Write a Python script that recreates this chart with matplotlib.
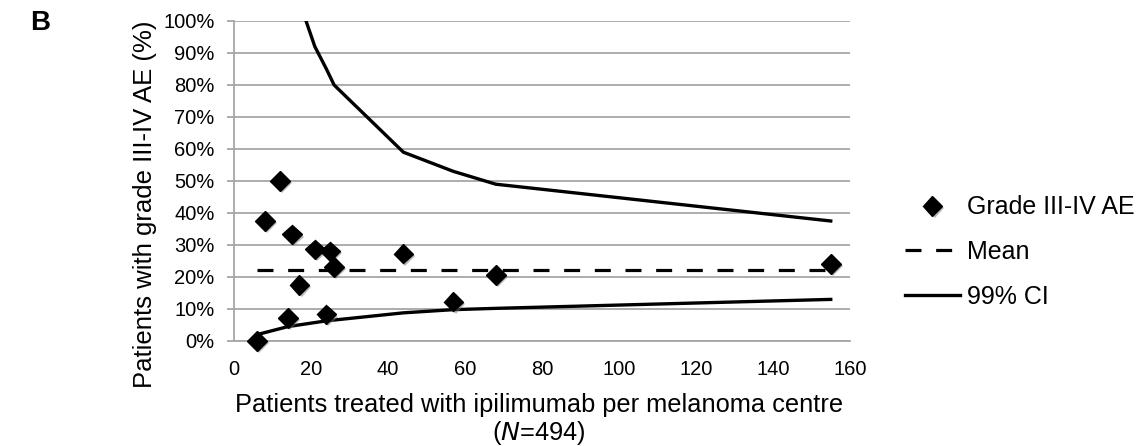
import numpy as np
import matplotlib
matplotlib.use("Agg")
import matplotlib.pyplot as plt
import matplotlib.patheffects as pe

# centre size vs. % of patients with grade III-IV AE
centre_n = [6, 8, 12, 14, 15, 17, 21, 24, 25, 26, 44, 57, 68, 155]
ae_pct = [0, 37.5, 50, 7.1, 33.3, 17.6, 28.6, 8.3, 28, 23.1, 27.3, 12.3, 20.6, 24]

mean_pct = 22.2
mean_x = [6, 155]

# 99% CI funnel
upper_x = [17, 21, 24, 25, 26, 44, 57, 68, 155]
upper_pct = [106, 92, 85, 82.5, 80, 59, 53, 49, 37.5]
lower_x = [6, 14, 24, 44, 57, 68, 155]
lower_pct = [2, 4.5, 6.3, 8.8, 9.8, 10.2, 13]

yticks = np.arange(0, 101, 10)
xticks = np.arange(0, 161, 20)

plt.rcParams['font.family'] = ['Liberation Sans', 'DejaVu Sans']

W, H = 1140, 446
fig = plt.figure(figsize=(W/100, H/100), dpi=100)
ax = fig.add_axes([234/W, 1-341/H, (850-234)/W, (341-21)/H])

grid_c = '#a6a6a6'
for y in yticks:
    ax.axhline(y, color=grid_c, lw=1.3, zorder=0)

shadow = [pe.SimplePatchShadow(offset=(1.5, -1.5), shadow_rgbFace='#777777', alpha=0.5), pe.Normal()]
ax.plot(centre_n, ae_pct, linestyle='none', marker='D', ms=10, color='black',
        label='Grade III-IV AE', zorder=4, path_effects=shadow, clip_on=False)
ax.plot(mean_x, [mean_pct, mean_pct], color='black', lw=2.3, dashes=(5, 4.6),
        label='Mean', zorder=3)
ax.plot(upper_x, upper_pct, color='black', lw=2.4, label='99% CI', zorder=3)
ax.plot(lower_x, lower_pct, color='black', lw=2.4, zorder=3)

ax.set_xlim(0, 160)
ax.set_ylim(0, 100)
ax.set_xticks(xticks)
ax.set_yticks(yticks)
ax.set_yticklabels(['%d%%' % v for v in yticks])
ax.tick_params(axis='both', labelsize=14.5, colors='black')
ax.tick_params(axis='y', length=5, color=grid_c, width=1.3, pad=9)
ax.tick_params(axis='x', length=0, pad=14)
for s in ['top', 'right']:
    ax.spines[s].set_visible(False)
ax.spines['left'].set_color(grid_c)
ax.spines['bottom'].set_color(grid_c)
ax.spines['left'].set_linewidth(1.3)
ax.spines['bottom'].set_linewidth(1.3)

fig.text(145/W, 1-204/H, 'Patients with grade III-IV AE (%)', fontsize=18.5,
         rotation=90, ha='center', va='center')
fig.text(539/W, 1-420/H, 'Patients treated with ipilimumab per melanoma centre\n($\\mathit{N}$=494)',
         fontsize=18.3, ha='center', va='center', linespacing=1.1)

leg = ax.legend(loc='center left', bbox_to_anchor=((905-234)/616, (341-252)/320),
                frameon=False, borderpad=0, borderaxespad=0,
                fontsize=18, handlelength=2.2, handletextpad=0.28, labelspacing=0.82)

fig.text(40/W, 1-23/H, 'B', fontsize=20, fontweight='bold', va='center', ha='center')

fig.savefig('out.png', dpi=100)
